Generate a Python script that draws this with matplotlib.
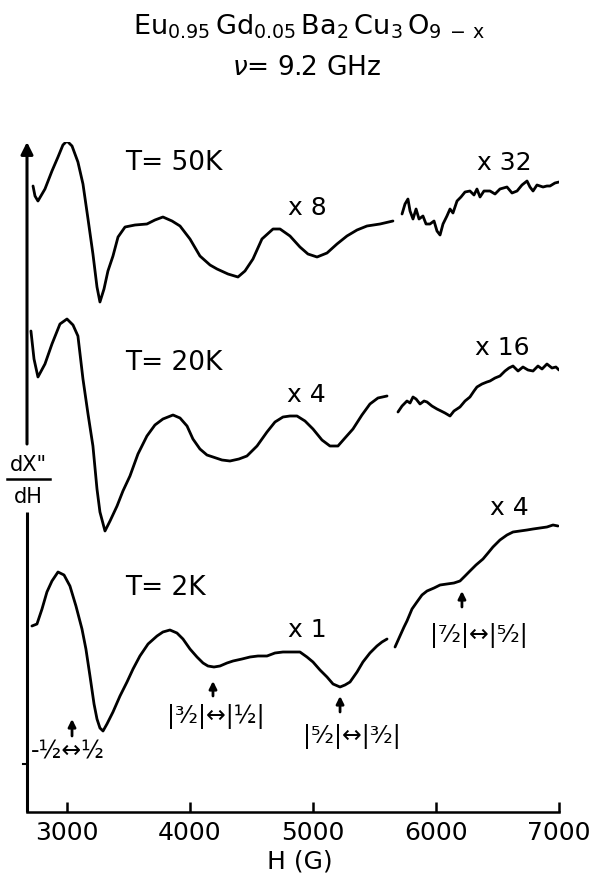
import matplotlib

matplotlib.use("Agg")
import matplotlib.pyplot as plt
import numpy as np

WIDTH_PX = 595
HEIGHT_PX = 878
DPI = 100

plt.rcParams["font.family"] = ["DejaVu Sans"]
plt.rcParams["mathtext.fontset"] = "dejavusans"

# Field (G) and derivative signal (arb. units, offset per trace) for each run.
# Every temperature is split into a low-field trace and an amplified
# high-field trace.
h_50k_low = [2724, 2740, 2764, 2821, 2878, 2927, 2967, 3000, 3041, 3089, 3130,
             3171, 3211, 3244, 3268, 3301, 3333, 3374, 3415, 3472, 3553, 3650,
             3715, 3780, 3854, 3919, 4000, 4081, 4163, 4220, 4309, 4390, 4447,
             4512, 4585, 4675, 4732, 4813, 4894, 4959, 5033, 5114, 5195, 5276,
             5358, 5439, 5545, 5650]
s_50k_low = [626, 616, 611, 623, 641, 655, 667, 671, 666, 650, 628,
             593, 558, 525, 510, 523, 541, 556, 575, 585, 587, 588,
             592, 595, 591, 586, 573, 556, 547, 543, 538, 535, 541,
             553, 573, 583, 583, 576, 565, 558, 555, 559, 568, 576,
             582, 586, 588, 591]

h_50k_high = [5724, 5748, 5772, 5789, 5813, 5838, 5862, 5894, 5919, 5951, 5984,
              6008, 6033, 6057, 6089, 6114, 6138, 6171, 6203, 6236, 6276, 6309,
              6333, 6358, 6390, 6439, 6480, 6520, 6577, 6618, 6659, 6699, 6740,
              6764, 6789, 6821, 6870, 6902, 6927, 6967, 7000]
s_50k_high = [598, 608, 613, 601, 593, 603, 593, 596, 588, 588, 591,
              581, 577, 588, 596, 603, 599, 611, 615, 620, 621, 617,
              623, 615, 621, 621, 618, 623, 625, 619, 621, 627, 631,
              625, 621, 627, 625, 626, 626, 629, 630]

h_20k_low = [2707, 2732, 2764, 2821, 2878, 2943, 3000, 3049, 3089, 3130, 3171,
             3211, 3244, 3268, 3309, 3350, 3407, 3455, 3512, 3577, 3650, 3715,
             3780, 3862, 3919, 3976, 4024, 4081, 4138, 4187, 4260, 4325, 4398,
             4463, 4545, 4626, 4691, 4756, 4813, 4870, 4935, 5000, 5073, 5138,
             5203, 5260, 5325, 5398, 5463, 5528, 5602]
s_20k_low = [481, 453, 435, 448, 468, 488, 493, 487, 476, 433, 398,
             366, 323, 300, 281, 291, 306, 321, 336, 358, 376, 387,
             393, 397, 394, 386, 373, 363, 357, 355, 352, 351, 353,
             356, 366, 380, 390, 395, 396, 396, 391, 383, 372, 366,
             366, 374, 383, 397, 408, 414, 416]

h_20k_high = [5691, 5724, 5764, 5789, 5813, 5838, 5870, 5903, 5927, 5967, 6008,
              6041, 6073, 6114, 6146, 6195, 6236, 6276, 6309, 6333, 6374, 6414,
              6439, 6480, 6520, 6561, 6593, 6626, 6667, 6707, 6748, 6789, 6829,
              6862, 6902, 6943, 6975, 7000]
s_20k_high = [400, 406, 411, 409, 415, 413, 408, 411, 410, 406, 403,
              401, 399, 396, 401, 405, 411, 415, 421, 425, 428, 430,
              431, 434, 436, 441, 444, 446, 441, 445, 442, 441, 446,
              443, 448, 444, 445, 442]

h_2k_low = [2715, 2756, 2797, 2837, 2878, 2927, 2976, 3024, 3073, 3122, 3154,
            3187, 3220, 3244, 3268, 3293, 3325, 3374, 3431, 3488, 3537, 3593,
            3659, 3732, 3780, 3837, 3894, 3943, 4000, 4057, 4106, 4146, 4195,
            4244, 4301, 4350, 4423, 4488, 4553, 4626, 4691, 4756, 4829, 4894,
            4951, 5000, 5057, 5114, 5163, 5220, 5260, 5301, 5358, 5406, 5463,
            5520, 5561, 5602]
s_2k_low = [186, 188, 203, 220, 231, 240, 237, 226, 206, 183, 163,
            136, 108, 93, 84, 81, 88, 100, 116, 130, 143, 156,
            168, 176, 180, 182, 179, 173, 163, 155, 149, 146, 145,
            146, 149, 151, 153, 155, 156, 156, 159, 160, 160, 160,
            155, 150, 142, 135, 128, 125, 127, 130, 140, 150, 159,
            166, 170, 173]

h_2k_high = [5667, 5707, 5740, 5764, 5805, 5845, 5886, 5927, 5984, 6033, 6089,
             6146, 6195, 6236, 6276, 6325, 6382, 6423, 6463, 6520, 6577, 6626,
             6683, 6740, 6789, 6845, 6902, 6951, 6992]
s_2k_high = [165, 176, 185, 191, 203, 210, 217, 221, 224, 227, 228,
             229, 231, 236, 241, 247, 253, 259, 265, 272, 277, 280,
             281, 282, 283, 284, 285, 287, 286]

x_ticks = [3000, 4000, 5000, 6000, 7000]

temp_labels = ["T= 50K", "T= 20K", "T= 2K"]
gain_labels = ["x 8", "x 32", "x 4", "x 16", "x 1", "x 4"]

# Fine structure transitions marked on the 2 K trace.
transition_labels = [
    "-\u00bd\u2194\u00bd",
    "|\u00b3\u2044\u2082|\u2194|\u00bd|",
    "|\u2075\u2044\u2082|\u2194|\u00b3\u2044\u2082|",
    "|\u2077\u2044\u2082|\u2194|\u2075\u2044\u2082|",
]
transition_fields = [3041, 4187, 5220, 6211]


def draw_traces(ax):
    traces = [
        (h_50k_low, s_50k_low), (h_50k_high, s_50k_high),
        (h_20k_low, s_20k_low), (h_20k_high, s_20k_high),
        (h_2k_low, s_2k_low), (h_2k_high, s_2k_high),
    ]
    for h, s in traces:
        ax.plot(h, s, color="black", lw=2.0, solid_joinstyle="round",
                solid_capstyle="round")


def draw_labels(ax):
    # Temperature labels sit above each low-field trace.
    for text, y in zip(temp_labels, [650, 450, 225]):
        ax.text(3472, y, text, fontsize=19, ha="left", va="center")

    # Amplification factors for each trace segment.
    gain_pos = [(4797, 605), (6333, 650), (4789, 418), (6317, 465),
                (4797, 183), (6439, 305)]
    for text, (x, y) in zip(gain_labels, gain_pos):
        ax.text(x, y, text, fontsize=18, ha="left", va="center")

    # Transition markers: short upward arrow plus the m_s pair below it.
    arrow_y = [(76, 93), (116, 131), (100, 116), (205, 221)]
    label_pos = [(3008, 61), (4211, 96), (5317, 76), (6350, 178)]
    for field, (y0, y1), text, (lx, ly) in zip(
        transition_fields, arrow_y, transition_labels, label_pos
    ):
        ax.annotate(
            "", xy=(field, y1), xytext=(field, y0),
            arrowprops=dict(arrowstyle="-|>", color="black", lw=2.0,
                            mutation_scale=11, shrinkA=0, shrinkB=0),
        )
        ax.text(lx, ly, text, fontsize=17, ha="center", va="center")


def draw_axes_frame(ax):
    for side in ["top", "right", "left"]:
        ax.spines[side].set_visible(False)
    ax.spines["bottom"].set_linewidth(1.8)

    ax.set_xlim(2675, 7000)
    ax.set_ylim(0, 670)
    ax.set_xticks(x_ticks)
    ax.tick_params(axis="x", direction="in", length=7, width=1.8,
                   labelsize=18, pad=6)
    ax.set_yticks([])

    # Broken vertical axis with an arrow tip, leaving room for the label.
    ax.plot([0, 0], [0, 300 / 670], transform=ax.transAxes, color="black",
            lw=2.2, clip_on=False, solid_capstyle="butt")
    ax.annotate(
        "", xy=(0, 1.0), xytext=(0, 368 / 670), xycoords="axes fraction",
        arrowprops=dict(arrowstyle="-|>", color="black", lw=2.2,
                        mutation_scale=18, shrinkA=0, shrinkB=0),
    )
    ax.plot([-0.008, 0], [48 / 670, 48 / 670], transform=ax.transAxes,
            color="black", lw=1.5, clip_on=False)


def draw_figure_text(fig):
    fig.text(
        309 / WIDTH_PX, 1 - 27 / HEIGHT_PX,
        r"$\mathrm{Eu_{0.95}\,Gd_{0.05}\,Ba_{2}\,Cu_{3}\,O_{9\;-\,x}}$",
        fontsize=19.5, ha="center", va="center",
    )
    fig.text(307 / WIDTH_PX, 1 - 68 / HEIGHT_PX, r"$\nu$= 9.2 GHz",
             fontsize=19, ha="center", va="center")
    fig.text(300 / WIDTH_PX, 1 - 862 / HEIGHT_PX, "H (G)", fontsize=18,
             ha="center", va="center")

    # Derivative label written as a stacked fraction beside the axis.
    fig.text(28 / WIDTH_PX, 1 - 465 / HEIGHT_PX, 'dX"', fontsize=15,
             ha="center", va="center")
    fig.text(28 / WIDTH_PX, 1 - 497 / HEIGHT_PX, "dH", fontsize=15,
             ha="center", va="center")
    fig.add_artist(plt.Line2D([7 / WIDTH_PX, 50 / WIDTH_PX],
                              [1 - 480 / HEIGHT_PX, 1 - 480 / HEIGHT_PX],
                              color="black", lw=1.8))


def main():
    fig = plt.figure(figsize=(WIDTH_PX / DPI, HEIGHT_PX / DPI), dpi=DPI)
    fig.patch.set_facecolor("white")
    ax = fig.add_axes([27 / WIDTH_PX, 65 / HEIGHT_PX, 532 / WIDTH_PX,
                       670 / HEIGHT_PX])
    draw_axes_frame(ax)
    draw_traces(ax)
    draw_labels(ax)
    draw_figure_text(fig)
    fig.savefig("out.png", dpi=DPI)
    plt.close(fig)


if __name__ == "__main__":
    main()
